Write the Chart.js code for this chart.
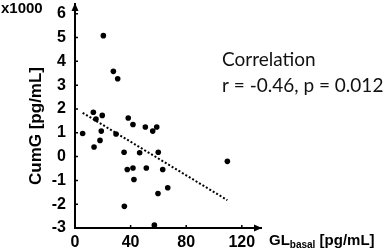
<!DOCTYPE html>
<html>
<head>
<meta charset="utf-8">
<script src="https://cdn.jsdelivr.net/npm/chart.js@4/dist/chart.umd.min.js"></script>
<style>
  html, body { margin: 0; padding: 0; background: #fff; }
  #wrap { width: 384px; height: 249px; }
</style>
</head>
<body>
<div id="wrap"><canvas id="chart" width="384" height="249"></canvas></div>
<script>
// ── Data (y in units of x1000 pg/mL) ───────────────────────────────────────
const glBasal = [5.5, 13.2, 13.7, 15.1, 18.0, 18.9, 19.6, 20.4, 27.6, 29.5,
                 30.7, 35.3, 35.5, 37.6, 38.3, 41.7, 41.7, 42.4, 46.5, 50.6,
                 51.3, 55.9, 57.1, 58.8, 59.7, 59.9, 63.1, 66.7, 109.6];
const cumG    = [0.97, 1.86, 0.40, 1.58, 0.68, 1.07, 1.73, 5.08, 3.58, 0.95,
                 3.27, 0.18, -2.09, -0.54, 1.62, 1.35, -0.48, -0.96, 0.16, 1.24,
                 -0.48, 1.07, -2.88, 1.24, -1.55, 0.18, -0.54, -1.31, -0.20];
const trendX  = [5.5, 109.6];
const trendY  = [1.84, -1.83];
const xTicks  = [0, 40, 80, 120];
const yTicks  = [-3, -2, -1, 0, 1, 2, 3, 4, 5, 6];

const ARIAL = "'Liberation Sans', Arial, sans-serif";
const BOLD = { family: ARIAL, size: 16, weight: 'bold' };

// ── Extra drawing: inward ticks, arrowheads, titles, annotation ────────────
const overlay = {
  id: 'overlay',
  afterDraw(chart) {
    const { ctx, chartArea: a, scales: { x, y } } = chart;
    ctx.save();
    ctx.fillStyle = '#000';
    ctx.strokeStyle = '#000';

    // small inward tick marks
    ctx.lineWidth = 1.5;
    ctx.beginPath();
    xTicks.slice(1).forEach(v => {
      const px = x.getPixelForValue(v);
      ctx.moveTo(px, a.bottom); ctx.lineTo(px, a.bottom - 3);
    });
    yTicks.slice(1).forEach(v => {
      const py = y.getPixelForValue(v);
      ctx.moveTo(a.left, py); ctx.lineTo(a.left + 3, py);
    });
    ctx.stroke();

    // arrowheads
    ctx.beginPath();
    ctx.moveTo(a.left, a.top - 1);
    ctx.lineTo(a.left - 3.5, a.top + 7);
    ctx.lineTo(a.left + 3.5, a.top + 7);
    ctx.closePath();
    ctx.moveTo(a.right + 1, a.bottom);
    ctx.lineTo(a.right - 7, a.bottom - 3.5);
    ctx.lineTo(a.right - 7, a.bottom + 3.5);
    ctx.closePath();
    ctx.fill();

    // x1000 multiplier
    ctx.font = `bold 15px ${ARIAL}`;
    ctx.textAlign = 'left';
    ctx.textBaseline = 'alphabetic';
    ctx.fillText('x1000', 1, 13);

    // y title
    ctx.save();
    ctx.translate(36.5, 126);
    ctx.rotate(-Math.PI / 2);
    ctx.textAlign = 'center';
    ctx.textBaseline = 'middle';
    ctx.font = `bold 17px ${ARIAL}`;
    ctx.fillText('CumG [pg/mL]', 0, 0);
    ctx.restore();

    // x title with subscript
    let cx = 269;
    ctx.font = `bold 15px ${ARIAL}`;
    ctx.fillText('GL', cx, 245);
    cx += ctx.measureText('GL').width;
    ctx.font = `bold 10px ${ARIAL}`;
    ctx.fillText('basal', cx, 248);
    cx += ctx.measureText('basal').width;
    ctx.font = `bold 15px ${ARIAL}`;
    ctx.fillText(' [pg/mL]', cx, 245);

    // correlation note
    ctx.fillStyle = '#111';
    ctx.font = "19px Lato, 'Open Sans', sans-serif";
    ctx.fillText('Correlation', 222, 66);
    ctx.fillText('r = -0.46, p = 0.012', 222, 92);

    ctx.restore();
  }
};

// ── Chart ──────────────────────────────────────────────────────────────────
new Chart(document.getElementById('chart'), {
  type: 'scatter',
  data: {
    datasets: [
      {
        data: glBasal.map((v, i) => ({ x: v, y: cumG[i] })),
        backgroundColor: '#000',
        borderWidth: 0,
        pointRadius: 2.8,
      },
      {
        type: 'line',
        data: trendX.map((v, i) => ({ x: v, y: trendY[i] })),
        borderColor: '#000',
        borderWidth: 2,
        borderDash: [2, 2],
        pointRadius: 0,
        fill: false,
      }
    ]
  },
  options: {
    responsive: false,
    devicePixelRatio: 1,
    animation: false,
    layout: { padding: { top: 4, right: 123, bottom: 0, left: 0 } },
    plugins: { legend: { display: false }, tooltip: { enabled: false } },
    scales: {
      x: {
        type: 'linear',
        min: 0, max: 133.8,
        grid: { display: false, drawTicks: false },
        border: { display: true, color: '#000', width: 2 },
        ticks: { color: '#000', font: BOLD, padding: 5, maxRotation: 0 },
        afterBuildTicks: s => { s.ticks = xTicks.map(v => ({ value: v })); },
        afterFit: s => { s.height = 21; s.paddingLeft = 0; s.paddingRight = 0; },
      },
      y: {
        type: 'linear',
        min: -3, max: 6.41,
        grid: { display: false, drawTicks: false },
        border: { display: true, color: '#000', width: 2 },
        ticks: { color: '#000', font: BOLD, padding: 9 },
        afterBuildTicks: s => { s.ticks = yTicks.map(v => ({ value: v })); },
        afterFit: s => { s.width = 75; s.paddingTop = 0; s.paddingBottom = 0; },
      }
    }
  },
  plugins: [overlay]
});
</script>
</body>
</html>
